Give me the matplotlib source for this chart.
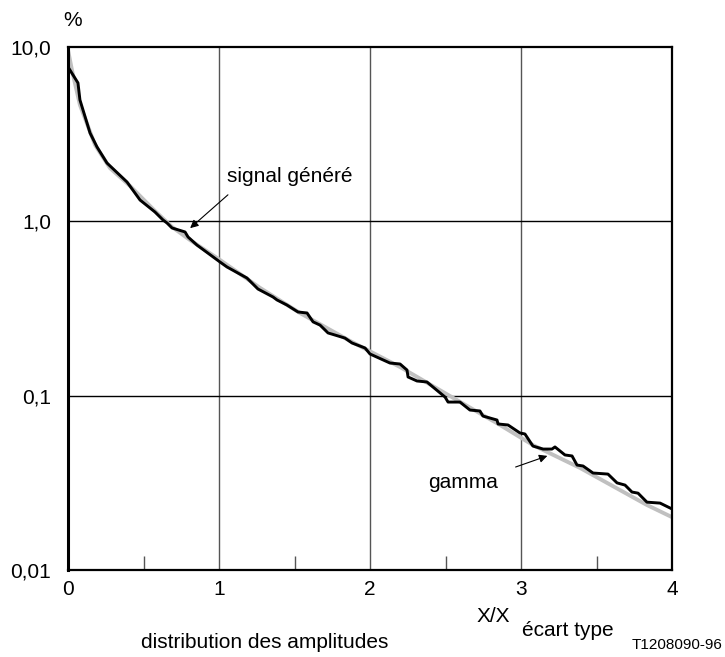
import matplotlib.pyplot as plt
import numpy as np

plt.rcParams['font.family'] = ['Liberation Sans', 'DejaVu Sans']

# signal généré (courbe mesurée, en escalier)
x_signal = [0.000, 0.000, 0.066, 0.079, 0.146, 0.192, 0.258, 0.391, 0.477, 0.576,
            0.629, 0.656, 0.689, 0.775, 0.795, 0.854, 1.007, 1.053, 1.185, 1.258,
            1.358, 1.384, 1.450, 1.523, 1.583, 1.623, 1.669, 1.722, 1.834, 1.881,
            1.967, 2.000, 2.132, 2.199, 2.245, 2.252, 2.311, 2.377, 2.497, 2.517,
            2.596, 2.662, 2.728, 2.748, 2.841, 2.848, 2.914, 2.993, 3.026, 3.079,
            3.146, 3.205, 3.225, 3.291, 3.338, 3.371, 3.411, 3.477, 3.576, 3.636,
            3.689, 3.735, 3.775, 3.834, 3.921, 4.000]
y_signal = [9.87, 7.68, 6.22, 4.97, 3.21, 2.67, 2.16, 1.68, 1.325, 1.131,
            1.018, 0.978, 0.916, 0.869, 0.813, 0.731, 0.584, 0.547, 0.473, 0.409,
            0.368, 0.354, 0.331, 0.302, 0.298, 0.265, 0.254, 0.229, 0.214, 0.2005,
            0.1877, 0.1734, 0.1539, 0.1519, 0.1403, 0.128, 0.1214, 0.1198, 0.0982, 0.0919,
            0.0919, 0.0827, 0.0817, 0.0764, 0.0725, 0.0688, 0.0679, 0.0611, 0.0603, 0.0514,
            0.0494, 0.0494, 0.0508, 0.0457, 0.0451, 0.0400, 0.0395, 0.0360, 0.0355, 0.0316,
            0.0307, 0.0280, 0.0276, 0.0245, 0.0242, 0.0224]

# loi gamma théorique
x_gamma = [0.000, 0.026, 0.079, 0.179, 0.278, 0.411, 0.576, 0.689, 0.808, 1.007,
           1.272, 1.536, 1.868, 2.199, 2.530, 2.861, 3.079, 3.391, 3.834, 4.000]
y_gamma = [9.61, 7.38, 4.65, 2.74, 2.02, 1.595, 1.146, 0.928, 0.781, 0.600,
           0.415, 0.298, 0.206, 0.146, 0.0995, 0.0679, 0.0521, 0.0385, 0.0236, 0.0201]

x_ticks = [0, 1, 2, 3, 4]
x_labels = ['0', '1', '2', '3', '4']
y_ticks = [0.01, 0.1, 1.0, 10.0]
y_labels = ['0,01', '0,1', '1,0', '10,0']

fs = 15

fig = plt.figure(figsize=(7.25, 6.57), dpi=100)
ax = fig.add_axes([0.0938, 0.1324, 0.8331, 0.7961])

ax.set_yscale('log')
ax.set_xlim(0, 4)
ax.set_ylim(0.01, 10)

# grille
for xv in [1, 2, 3]:
    ax.axvline(xv, color='#555555', lw=1.0, zorder=1)
for yv in [0.1, 1.0]:
    ax.axhline(yv, color='black', lw=1.0, zorder=1)

ax.plot(x_gamma, y_gamma, color='#c0c0c0', lw=2.8, zorder=2)
ax.plot(x_signal, y_signal, color='black', lw=2.1, zorder=3)

ax.set_xticks(x_ticks)
ax.set_xticklabels(x_labels, fontsize=fs)
ax.set_xticks([0.5, 1.5, 2.5, 3.5], minor=True)
ax.tick_params(axis='x', which='major', length=0, pad=7)
ax.tick_params(axis='x', which='minor', direction='in', length=10, width=1, color='#555555')

ax.set_yticks(y_ticks)
ax.set_yticklabels(y_labels, fontsize=fs)
ax.yaxis.set_minor_locator(plt.NullLocator())
ax.tick_params(axis='y', which='major', length=0, pad=12)

for s in ax.spines.values():
    s.set_linewidth(1.6)
ax.spines['left'].set_linewidth(2.2)

# annotations
ax.annotate('', xy=(0.795, 0.892), xytext=(1.073, 1.454),
            arrowprops=dict(arrowstyle='-|>', color='black', lw=0.8,
                            mutation_scale=12))
ax.text(1.053, 1.68, 'signal généré', fontsize=fs, ha='left', va='baseline')

ax.annotate('', xy=(3.192, 0.0457), xytext=(2.947, 0.0385),
            arrowprops=dict(arrowstyle='-|>', color='black', lw=0.8,
                            mutation_scale=12))
ax.text(2.384, 0.0295, 'gamma', fontsize=fs, ha='left', va='baseline')

fig.text(73 / 725, 1 - 20 / 657, '%', fontsize=fs, ha='center', va='center')
fig.text(493 / 725, 1 - 616 / 657, 'X/X', fontsize=fs, ha='center', va='center')
fig.text(568 / 725, 1 - 630 / 657, 'écart type', fontsize=fs, ha='center', va='center')
fig.text(265 / 725, 1 - 643 / 657, 'distribution des amplitudes', fontsize=fs,
         ha='center', va='center')
fig.text(723 / 725, 1 - 645 / 657, 'T1208090-96', fontsize=11, ha='right', va='center')

fig.savefig('out.png', dpi=100, facecolor='white')
